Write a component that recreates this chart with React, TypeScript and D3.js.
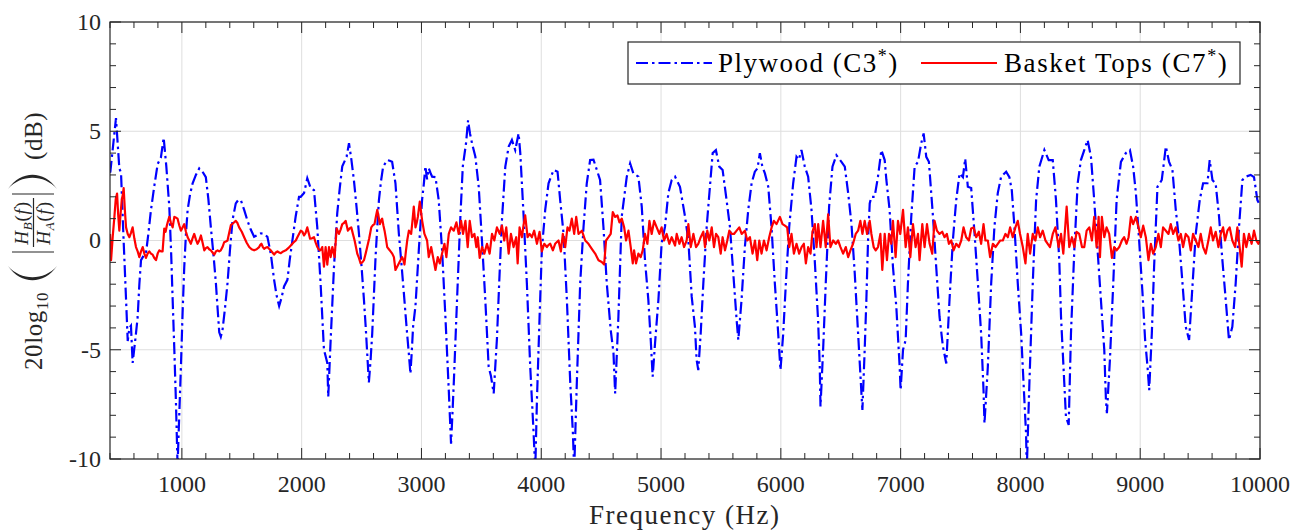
import { useMemo } from "react";
import * as d3 from "d3";

const W = 1306;
const H = 531;
const margin = { top: 22, right: 46, bottom: 72, left: 110 };

const xMajor = [1000, 2000, 3000, 4000, 5000, 6000, 7000, 8000, 9000, 10000];
const yMajor = [-10, -5, 0, 5, 10];
const yLabels = ["-10", "-5", "0", "5", "10"];

// Plywood (C3*), [Hz, dB]
const plywoodA: [number, number][] = [
  [400, 3.1], [403, 3.15], [425, 4.3], [450, 5.6], [464, 4.45], [478, 3.3], [492, 3.1], [510, 0.5],
  [534, -2.7], [548, -4.6], [562, -4.0], [575, -3.9], [589, -5.6], [610, -4.6], [631, -3.5], [645, -2.0],
  [659, -0.9], [680, -0.7], [700, -0.6], [720, 0.3], [742, 1.4], [770, 2.5], [798, 3.5], [825, 3.8],
  [848, 4.7], [870, 3.4], [895, 1.55], [910, -0.5], [923, -2.7], [937, -5.0], [950, -7.3], [964, -10.3],
  [978, -8.0], [992, -5.8], [1006, -3.3], [1020, -1.2], [1034, 0.3], [1048, 1.4], [1068, 2.1], [1089, 2.6],
  [1117, 3.0], [1145, 3.3], [1172, 3.15], [1200, 2.9], [1221, 1.9], [1242, 0.6], [1263, -0.6], [1284, -1.95],
  [1298, -3.1], [1312, -4.2], [1325, -4.4], [1339, -4.1], [1360, -3.1], [1381, -1.95], [1402, -0.4], [1423, 0.94],
  [1450, 1.7], [1470, 1.85], [1492, 1.85], [1520, 1.4], [1548, 0.9], [1575, 0.5], [1603, 0.17], [1631, 0.25],
  [1659, 0.33], [1686, 0.3], [1714, 0.17], [1742, -0.6], [1770, -1.8], [1790, -2.5], [1812, -3.0], [1833, -2.6],
  [1853, -2.1], [1881, -1.8], [1900, -0.9], [1923, 0.02], [1950, 1.1], [1978, 2.0], [1992, 2.0],
];
const plywoodB: [number, number][] = [
  [2020, 2.17], [2047, 2.85], [2075, 2.4], [2103, 2.3], [2130, 0.63], [2158, -1.96], [2186, -5.0], [2200, -5.3],
  [2214, -5.6], [2222, -7.15], [2242, -4.55], [2270, -1.2], [2297, 1.25], [2318, 2.4], [2339, 3.4], [2375, 3.83],
  [2395, 4.45], [2415, 3.7], [2436, 2.77], [2457, 1.6], [2478, 0.33], [2500, -1.2], [2520, -2.72], [2535, -4.0],
  [2547, -5.15], [2561, -6.5], [2575, -5.5], [2589, -4.25], [2603, -2.5], [2617, -0.74], [2631, 0.6], [2645, 1.85],
  [2662, 2.7], [2680, 3.38], [2714, 3.68], [2735, 3.65], [2755, 3.6], [2783, 2.62], [2811, 0.33], [2832, -1.0],
  [2853, -2.4], [2866, -3.3], [2880, -4.25], [2895, -5.2], [2908, -6.1], [2920, -5.0], [2930, -3.95], [2950, -3.0],
  [2978, -0.43], [3005, 1.85], [3020, 2.6], [3033, 3.4], [3047, 2.8], [3061, 3.3], [3075, 3.1], [3089, 2.92],
  [3117, 2.9], [3144, 1.85], [3172, -0.43], [3200, -3.5], [3228, -6.85], [3247, -9.3], [3258, -8.0], [3270, -6.5],
  [3297, -2.72], [3325, 1.1], [3345, 3.38], [3372, 4.45], [3389, 5.5], [3405, 4.9], [3422, 4.45], [3450, 3.83],
  [3478, 2.46], [3505, 0], [3533, -2.72], [3561, -5.78], [3580, -6.2], [3603, -7.0], [3630, -4.5], [3650, -1.8],
  [3672, 0.94], [3700, 3.38], [3728, 4.3], [3755, 4.6], [3783, 4.14], [3800, 4.6], [3811, 4.9], [3825, 4.0],
  [3853, 1.1], [3880, -1.96], [3908, -5.78], [3936, -8.8], [3950, -10.5], [3964, -7.3], [3986, -3.5],
];
const plywoodC: [number, number][] = [
  [4005, -0.43], [4033, 1.4], [4061, 2.62], [4103, 3.23], [4136, 3.15], [4158, 1.85], [4186, 0.33], [4214, -2.72],
  [4242, -6.5], [4264, -8.8], [4275, -10.5], [4297, -6.5], [4325, -1.96], [4353, 0.63], [4380, 2.62], [4408, 3.68],
  [4436, 3.7], [4464, 3.23], [4491, 2.77], [4519, 0.63], [4547, -1.96], [4580, -4.1], [4603, -5.15], [4617, -7.0],
  [4644, -3.5], [4672, 1.1], [4714, 2.92], [4742, 3.53], [4769, 3.07], [4811, 2.92], [4839, 1.55], [4866, -0.9],
  [4894, -2.72], [4914, -4.55], [4930, -6.23], [4950, -4.7], [4978, -2.72], [5005, -0.12], [5033, 0.63], [5061, 2.17],
  [5089, 2.77], [5117, 2.92], [5158, 2.46], [5200, 1.1], [5228, 0], [5256, -2.57], [5283, -3.95], [5297, -5.47],
  [5311, -5.93], [5331, -4.25], [5353, -1.96], [5381, 0.63], [5408, 2.46], [5431, 4.0], [5458, 4.14], [5486, 3.38],
  [5514, 3.23], [5547, 1.85], [5575, 0.63], [5603, -1.5], [5631, -3.64], [5645, -4.55], [5672, -2.72], [5700, -0.28],
  [5728, 1.4], [5756, 2.62], [5783, 3.15], [5805, 3.3], [5825, 4.0], [5845, 3.4], [5867, 3.07], [5895, 2.46],
  [5922, 0.63], [5950, -1.96], [5978, -4.25], [5997, -5.93],
];
const plywoodD: [number, number][] = [
  [6020, -4.25], [6042, -1.96], [6070, 0.63], [6103, 2.62], [6131, 3.83], [6150, 3.7], [6172, 4.14], [6200, 3.38],
  [6228, 2.92], [6256, 1.4], [6283, -0.9], [6311, -3.64], [6325, -5.78], [6331, -7.6], [6353, -5.0], [6375, -1.96],
  [6403, 1.55], [6431, 3.38], [6464, 3.9], [6506, 3.6], [6534, 3.38], [6562, 2.17], [6589, 0.8], [6617, -1.5],
  [6645, -4.25], [6673, -7.0], [6681, -7.75], [6700, -5.0], [6714, -2.72], [6728, 0.0], [6742, 1.7], [6756, 2.0],
  [6783, 2.0], [6811, 2.92], [6839, 4.14], [6867, 3.68], [6881, 2.77], [6908, 1.4], [6936, -1.2], [6964, -3.03],
  [6992, -5.78], [7000, -6.84], [7020, -5.0], [7042, -4.55], [7061, -1.96], [7089, 1.1], [7117, 3.38], [7145, 3.6],
  [7172, 4.45], [7192, 4.9], [7214, 3.83], [7236, 3.6], [7270, 1.1], [7297, -1.2], [7325, -3.5], [7353, -4.85],
  [7381, -5.63], [7408, -2.72], [7436, 0], [7464, 1.85], [7492, 3.07], [7520, 2.9], [7539, 3.75], [7561, 2.46],
  [7589, 2.4], [7617, 0.33], [7645, -1.96], [7672, -4.25], [7692, -6.85], [7700, -8.37], [7728, -5.78], [7756, -1.96],
  [7783, 0.63], [7811, 2.17], [7839, 2.92], [7881, 3.15], [7908, 2.9], [7928, 2.3], [7950, 0.63], [7978, -1.96],
];
const plywoodE: [number, number][] = [
  [8006, -4.25], [8033, -7.3], [8047, -8.83], [8053, -10.5], [8075, -6.5], [8103, -1.96], [8131, 1.85], [8158, 3.38],
  [8200, 4.14], [8236, 3.68], [8270, 3.68], [8297, 1.85], [8325, -1.0], [8339, -3.5], [8366, -6.5], [8380, -8.06],
  [8403, -8.44], [8422, -4.25], [8450, -0.43], [8478, 2.62], [8505, 3.68], [8533, 4.14], [8561, 4.6], [8589, 3.83],
  [8616, 1.85], [8644, -0.43], [8672, -2.72], [8700, -5.0], [8714, -7.3], [8722, -7.9], [8747, -5.47], [8775, -1.96],
  [8803, 1.85], [8839, 3.6], [8880, 4.0], [8914, 4.14], [8941, 3.38], [8964, 2.17], [8991, 0], [9019, -2.4],
  [9041, -4.55], [9061, -5.78], [9075, -6.85], [9097, -4.25], [9116, -1.2], [9144, 2.46], [9180, 2.77], [9214, 4.3],
  [9241, 3.6], [9269, 3.23], [9297, 1.4], [9325, 0], [9353, -1.96], [9380, -3.95], [9408, -4.55], [9436, -2.1],
  [9464, 0.33], [9497, 1.85], [9525, 2.62], [9561, 2.62], [9580, 3.68], [9603, 2.77], [9630, 2.6], [9658, 1.1],
  [9686, -0.9], [9714, -2.72], [9741, -4.55], [9769, -3.95], [9797, -1.96], [9825, 0.63], [9853, 2.77], [9880, 2.92],
  [9922, 3.0], [9950, 2.9], [9978, 1.85], [10000, 1.6],
];

// Basket Tops (C7*)
const basketA: [number, number][] = [
  [400, 0.3], [409, -0.9], [423, 0.2], [437, 1.1], [448, 1.9], [459, 2.15], [468, 1.2], [478, 0.45], [488, 1.2],
  [498, 1.85], [507, 2.1], [514, 2.4], [524, 1.4], [534, 0.6], [548, 0.3], [562, 0.15], [575, 0.35], [589, 0.6],
  [603, 0.1], [617, -0.3], [631, -0.5], [645, -0.76], [659, -0.5], [673, -0.3], [687, -0.6], [700, -0.8],
  [714, -0.6], [728, -0.5], [742, -0.6], [756, -0.65], [770, -0.8], [784, -0.9], [798, -0.6], [812, -0.45],
  [826, -0.5], [839, -0.5], [853, 0.55], [864, 0.4], [875, 0.7], [885, 0.9], [895, 1.08], [909, 0.8], [923, 0.6],
  [937, 1.08], [950, 1.05], [964, 1.0], [978, 0.7], [992, 0.45], [1006, 0.6], [1020, 0.75], [1034, 0.4],
  [1048, 0.15], [1062, 0.0], [1075, -0.15], [1089, 0.1], [1103, 0.3], [1117, 0.05], [1131, -0.15], [1145, 0.0],
  [1159, 0.23], [1173, -0.1], [1187, -0.45], [1200, -0.35], [1214, -0.3], [1228, -0.4], [1242, -0.45], [1256, -0.55],
  [1270, -0.65], [1284, -0.5], [1298, -0.45], [1312, -0.5], [1325, -0.45], [1339, -0.3], [1353, -0.08], [1367, -0.05],
  [1381, 0], [1395, 0.35], [1409, 0.7], [1430, 0.8], [1450, 0.9], [1464, 0.8], [1478, 0.6], [1500, 0.4],
  [1520, 0.15], [1541, -0.1], [1562, -0.3], [1582, -0.4], [1603, -0.45], [1624, -0.4], [1645, -0.3], [1655, -0.2],
  [1664, -0.15], [1676, -0.3], [1687, -0.38], [1700, -0.33], [1714, -0.3], [1728, -0.38], [1742, -0.45], [1756, -0.55],
  [1770, -0.65], [1784, -0.55], [1798, -0.5], [1812, -0.55], [1826, -0.58], [1846, -0.5], [1867, -0.45], [1888, -0.35],
  [1909, -0.23], [1930, -0.1], [1951, 0], [1964, 0.15], [1978, 0.3], [1992, 0.45],
];
const basketB: [number, number][] = [
  [2006, 0.4], [2020, 0.23], [2033, 0.35], [2047, 0.6], [2058, 0.35], [2070, 0.08], [2086, 0.1], [2103, 0.15],
  [2117, -0.1], [2131, -0.3], [2142, -0.4], [2153, -0.45], [2163, -0.4], [2172, -0.3], [2186, -1.2], [2200, -0.3],
  [2214, -1.1], [2228, -0.3], [2242, -0.76], [2256, -0.3], [2275, -0.76], [2292, 0.55], [2311, 0.3], [2325, 0.5],
  [2339, 0.75], [2353, 0.8], [2367, 0.9], [2386, 0.45], [2400, 0.55], [2414, 0.6], [2428, 0.3], [2442, 0],
  [2453, -0.3], [2464, -0.6], [2478, -0.8], [2492, -1.05], [2506, -1.0], [2520, -0.9], [2534, -0.6], [2547, -0.3],
  [2564, 0.1], [2581, 0.6], [2595, 0.7], [2608, 0.75], [2620, 1.1], [2631, 1.4], [2642, 1.1], [2653, 0.75],
  [2662, 0.9], [2672, 1.0], [2682, 0.7], [2692, 0.45], [2703, 0.1], [2714, -0.3], [2728, -0.4], [2742, -0.5],
  [2756, -0.6], [2770, -0.76], [2783, -1.35], [2797, -1.2], [2811, -1.05], [2825, -0.9], [2839, -0.76], [2849, -0.9],
  [2858, -1.1], [2870, -0.5], [2881, 0], [2895, 0.45], [2914, 0.3], [2925, 0.9], [2936, 1.55], [2950, 0.6],
  [2960, 0.8], [2970, 1.08], [2986, 1.78], [3006, 0.9], [3025, 0.3], [3047, 0], [3061, -0.76], [3081, -0.3],
  [3097, -0.76], [3117, -1.35], [3136, -0.76], [3153, -1.05], [3172, -0.6], [3192, -0.15], [3208, -0.76], [3228, 0.3],
  [3247, 0.6], [3270, 0.45], [3292, 0.83], [3311, 0.3], [3331, 0.9], [3347, 0.3], [3367, 0.9], [3386, -0.3],
  [3403, 0.9], [3422, 0.15], [3442, 0.3], [3458, -0.3], [3470, 0.15], [3486, -0.8], [3506, -0.3], [3525, -0.6],
  [3547, -0.15], [3569, -0.6], [3589, 0.3], [3608, 0], [3630, 0.6], [3653, 0.3], [3672, 0.68], [3691, 0],
  [3708, 0.6], [3728, -0.6], [3747, 0.3], [3769, -0.3], [3791, 0.15], [3803, -1.05], [3819, 0.6], [3839, 0.15],
  [3852, 0.7], [3866, 1.15], [3886, 0.15], [3903, 0.3], [3922, 0.15], [3941, 0.45], [3964, -0.15], [3986, 0.4],
];
const basketC: [number, number][] = [
  [4005, -0.5], [4025, -0.15], [4047, -0.3], [4061, -0.2], [4075, -0.15], [4097, -0.45], [4116, -0.15], [4144, 0],
  [4164, -0.5], [4180, 0.3], [4200, -0.3], [4219, 0.6], [4236, 0.45], [4255, 1.0], [4275, 0.3], [4292, 1.08],
  [4311, 0.3], [4339, 0.45], [4367, 0], [4394, -0.15], [4422, -0.38], [4450, -0.6], [4478, -0.9], [4505, -0.98],
  [4525, -1.1], [4541, 0], [4561, 0.15], [4580, 0.3], [4597, 1.3], [4617, 1.08], [4636, 1.15], [4653, 0.83],
  [4672, 1.0], [4692, 0.6], [4708, 0], [4728, 0.45], [4747, -0.3], [4764, -1.05], [4775, -0.45], [4791, -1.05],
  [4811, -0.6], [4830, -0.76], [4847, -0.45], [4866, 0.3], [4886, -0.15], [4903, 0.9], [4922, 0.3], [4942, 0.9],
  [4964, 0.6], [4986, 0.3], [5005, 0.6], [5025, 0], [5047, 0.3], [5069, -0.15], [5089, 0.15], [5117, -0.23],
  [5131, 0.3], [5153, -0.15], [5172, 0.15], [5192, -0.3], [5214, 0], [5228, 0.75], [5248, -0.3], [5270, 0.3],
  [5292, -0.3], [5311, -0.15], [5331, 0.15], [5353, 0.4], [5367, -0.3], [5386, 0.45], [5403, 0], [5423, 0.6],
  [5442, -0.3], [5459, 0.3], [5478, 0.15], [5498, -0.6], [5514, 0.15], [5534, -0.45], [5553, 0], [5570, 0.45],
  [5589, 0.3], [5609, 0.3], [5631, 0.45], [5653, 0.6], [5673, 0.3], [5700, 0.45], [5720, 0], [5742, 0.15],
  [5764, -0.6], [5784, 0], [5803, -0.9], [5820, 0], [5839, -0.6], [5859, 0], [5881, -0.45], [5903, 0.15],
  [5923, 0.6], [5942, 0.9], [5964, 0.75], [5992, 1.08],
];
const basketD: [number, number][] = [
  [6014, 0.75], [6034, 0.68], [6053, 0.6], [6070, -0.3], [6089, 0.3], [6109, -0.6], [6131, -0.15], [6153, -0.6],
  [6173, -0.3], [6192, -0.15], [6209, -1.05], [6228, -0.3], [6248, -0.6], [6264, 0.4], [6284, 0.75], [6298, -0.3],
  [6312, 0.75], [6331, -0.3], [6353, 0.9], [6375, -0.3], [6395, 1.2], [6414, -0.3], [6437, 0], [6459, -0.15],
  [6478, 0], [6498, -0.3], [6520, -0.6], [6542, -0.3], [6562, -0.76], [6581, -0.45], [6603, -0.15], [6625, 0.3],
  [6645, 0.45], [6664, 0.9], [6681, 0.3], [6700, 0.9], [6720, 0.3], [6742, 0.9], [6756, 0.3], [6775, -0.3],
  [6792, -0.45], [6811, -0.3], [6831, 0.3], [6847, -1.35], [6867, 0.3], [6886, -0.9], [6903, 0.3], [6922, -0.15],
  [6936, 0.9], [6958, -0.76], [6978, 0.9], [6997, 0.3], [7020, 1.4], [7042, -0.3], [7061, 0.6], [7081, -0.76],
  [7103, 0.75], [7125, -0.3], [7145, 0.3], [7158, -0.9], [7181, 0.75], [7200, -0.3], [7220, 0.75], [7242, -0.15],
  [7264, -0.6], [7283, 0.9], [7303, 0.45], [7325, 0.3], [7347, 0.4], [7367, 0.15], [7386, 0.3], [7403, -0.15],
  [7423, 0], [7442, -0.45], [7464, -0.15], [7486, -0.3], [7506, 0], [7525, 0.6], [7547, 0.15], [7570, 0],
  [7589, 0.55], [7609, 0.6], [7631, 0.15], [7653, 0.4], [7672, -0.15], [7692, 0.75], [7708, 0], [7728, 0],
  [7747, -0.76], [7770, -0.15], [7792, -0.3], [7811, -0.15], [7831, 0], [7853, 0], [7875, 0.3], [7895, 0.15],
  [7914, 0.6], [7936, 0.15], [7958, 0.6], [7978, 0.9], [7997, 0.3],
];
const basketE: [number, number][] = [
  [8020, -0.3], [8042, -1.05], [8061, 0.3], [8081, -0.6], [8103, 0.3], [8125, 0], [8145, 0.6], [8164, 0.15],
  [8186, 0.45], [8209, 0], [8228, -0.15], [8247, -0.3], [8270, 0.3], [8292, 0.6], [8319, -0.3], [8339, 0.3],
  [8358, -0.6], [8386, 1.55], [8408, -0.3], [8430, 0.15], [8450, -0.3], [8469, 0.4], [8491, 0.3], [8514, -0.3],
  [8533, -0.3], [8553, 0.45], [8575, 0.6], [8597, 0], [8616, 1.08], [8636, -0.3], [8653, 1.08], [8664, -0.76],
  [8680, 1.08], [8700, 0.15], [8719, 0.6], [8741, 0.3], [8764, -0.8], [8783, -0.3], [8803, -0.45], [8825, -0.3],
  [8847, 0], [8866, 0.15], [8886, -0.15], [8903, 0.15], [8922, 1.08], [8941, 0.75], [8964, 1.08], [8986, 0.6],
  [9005, 0.15], [9025, 0.68], [9047, 0.15], [9069, -0.9], [9089, -0.15], [9108, -0.6], [9130, -0.3], [9152, 0.3],
  [9172, -0.3], [9191, 0.6], [9214, 0.45], [9236, 0.3], [9255, 0.75], [9275, 0.3], [9297, 0.6], [9319, 0],
  [9339, 0.3], [9358, -0.3], [9380, 0.3], [9403, 0.15], [9422, -0.45], [9441, 0.3], [9464, 0], [9486, -0.3],
  [9505, 0.3], [9525, -0.3], [9547, -0.6], [9569, 0], [9589, 0.6], [9608, 0], [9630, 0.4], [9653, -0.3],
  [9672, 0.3], [9692, 0.6], [9708, 0], [9728, 0.45], [9747, 0.6], [9769, 0], [9792, -0.3], [9811, 0.6],
  [9830, -0.3], [9847, -1.2], [9866, 0.3], [9886, -0.3], [9908, 0.3], [9930, -0.15], [9950, 0.45], [9969, 0],
  [9986, -0.15], [10000, 0],
];

const plywood = [...plywoodA, ...plywoodB, ...plywoodC, ...plywoodD, ...plywoodE];
const basket = [...basketA, ...basketB, ...basketC, ...basketD, ...basketE];

const FONT = "'Liberation Serif', 'Times New Roman', serif";
const AXIS = "#262626";
const GRID = "#dedede";
const BLUE = "#0000ff";
const RED = "#ff0000";
const DASHDOT = "12,4,2.5,4";

export default function App() {
  const x0 = margin.left;
  const x1 = W - margin.right;
  const y0 = margin.top;
  const y1 = H - margin.bottom;

  const x = useMemo(() => d3.scaleLinear().domain([400, 10000]).range([x0, x1]), []);
  const y = useMemo(() => d3.scaleLinear().domain([-10, 10]).range([y1, y0]), []);

  const line = d3
    .line<[number, number]>()
    .x((d) => x(d[0]))
    .y((d) => y(d[1]));

  // minor ticks every 200 Hz and 1 dB
  const xMinor = d3.range(400, 10001, 200).filter((v) => v % 1000 !== 0);
  const yMinor = d3.range(-10, 11, 1).filter((v) => v % 5 !== 0);

  const major = 11;
  const minor = 6;

  return (
    <svg
      width={W}
      height={H}
      style={{ position: "absolute", left: 0, top: 0, background: "#fff" }}
      fontFamily={FONT}
    >
      <defs>
        <clipPath id="plot">
          <rect x={x0} y={y0} width={x1 - x0} height={y1 - y0} />
        </clipPath>
      </defs>
      <rect x={x0} y={y0} width={x1 - x0} height={y1 - y0} fill="#fff" />

      {/* grid */}
      {xMajor.map((v) => (
        <line key={"gx" + v} x1={x(v)} x2={x(v)} y1={y0} y2={y1} stroke={GRID} strokeWidth={1} />
      ))}
      {yMajor.map((v) => (
        <line key={"gy" + v} x1={x0} x2={x1} y1={y(v)} y2={y(v)} stroke={GRID} strokeWidth={1} />
      ))}

      {/* series */}
      <g clipPath="url(#plot)">
        <path
          d={line(plywood) || ""}
          fill="none"
          stroke={BLUE}
          strokeWidth={2.2}
          strokeDasharray={DASHDOT}
        />
        <path d={line(basket) || ""} fill="none" stroke={RED} strokeWidth={2.2} strokeLinejoin="round" />
      </g>

      {/* ticks, inward on all four sides */}
      <g stroke={AXIS} strokeWidth={1}>
        {xMajor.map((v) => (
          <g key={"tx" + v}>
            <line x1={x(v)} x2={x(v)} y1={y1} y2={y1 - major} />
            <line x1={x(v)} x2={x(v)} y1={y0} y2={y0 + major} />
          </g>
        ))}
        {xMinor.map((v) => (
          <g key={"mx" + v}>
            <line x1={x(v)} x2={x(v)} y1={y1} y2={y1 - minor} />
            <line x1={x(v)} x2={x(v)} y1={y0} y2={y0 + minor} />
          </g>
        ))}
        {yMajor.map((v) => (
          <g key={"ty" + v}>
            <line x1={x0} x2={x0 + major} y1={y(v)} y2={y(v)} />
            <line x1={x1} x2={x1 - major} y1={y(v)} y2={y(v)} />
          </g>
        ))}
        {yMinor.map((v) => (
          <g key={"my" + v}>
            <line x1={x0} x2={x0 + minor} y1={y(v)} y2={y(v)} />
            <line x1={x1} x2={x1 - minor} y1={y(v)} y2={y(v)} />
          </g>
        ))}
      </g>
      <rect x={x0} y={y0} width={x1 - x0} height={y1 - y0} fill="none" stroke={AXIS} strokeWidth={1.2} />

      {/* tick labels */}
      <g fontSize={24} fill={AXIS}>
        {xMajor.map((v) => (
          <text key={"lx" + v} x={x(v)} y={y1 + 33} textAnchor="middle">
            {String(v)}
          </text>
        ))}
        {yMajor.map((v, i) => (
          <text key={"ly" + v} x={x0 - 9} y={y(v)} dy="0.33em" textAnchor="end">
            {yLabels[i]}
          </text>
        ))}
      </g>

      {/* x label */}
      <text
        x={(x0 + x1) / 2 - 1}
        y={524}
        fontSize={27}
        textAnchor="middle"
        fill={AXIS}
        textLength={190}
        lengthAdjust="spacing"
      >
        Frequency (Hz)
      </text>

      {/* y label: 20log10( |H_B(f) / H_A(f)| ) (dB) */}
      <g transform="translate(42,240) rotate(-90)" fill={AXIS}>
        <text x={-130} y={0} fontSize={25} letterSpacing={0.6}>
          20log
          <tspan fontSize={17} dy={6}>
            10
          </tspan>
        </text>
        <path d="M -26,-34 C -45,-21 -45,2 -26,15 C -41,2 -41,-21 -26,-34 Z" stroke="none" />
        <line x1={-12} x2={-12} y1={-30} y2={12} stroke={AXIS} strokeWidth={1.2} />
        <text x={17} y={-14} fontSize={19} textAnchor="middle" letterSpacing={0.8}>
          <tspan fontStyle="italic">H</tspan>
          <tspan fontStyle="italic" fontSize={13} dy={4}>
            B
          </tspan>
          <tspan dy={-4}>(</tspan>
          <tspan fontStyle="italic">f</tspan>
          <tspan>)</tspan>
        </text>
        <line x1={-7} x2={42} y1={-8.5} y2={-8.5} stroke={AXIS} strokeWidth={1.2} />
        <text x={17} y={8} fontSize={19} textAnchor="middle" letterSpacing={0.8}>
          <tspan fontStyle="italic">H</tspan>
          <tspan fontStyle="italic" fontSize={13} dy={4}>
            A
          </tspan>
          <tspan dy={-4}>(</tspan>
          <tspan fontStyle="italic">f</tspan>
          <tspan>)</tspan>
        </text>
        <line x1={46} x2={46} y1={-30} y2={12} stroke={AXIS} strokeWidth={1.2} />
        <path d="M 51,-34 C 70,-21 70,2 51,15 C 66,2 66,-21 51,-34 Z" stroke="none" />
        <text x={80} y={0} fontSize={25} letterSpacing={0.6}>
          (dB)
        </text>
      </g>

      {/* legend */}
      <rect x={628} y={42} width={612} height={42} fill="#fff" stroke={AXIS} strokeWidth={1.2} />
      <line x1={636} x2={712} y1={63} y2={63} stroke={BLUE} strokeWidth={2.2} strokeDasharray={DASHDOT} />
      <text x={718} y={72} fontSize={27} letterSpacing={1.5} fill="#000">
        Plywood (C3
        <tspan fontSize={18} dy={-10}>
          *
        </tspan>
        <tspan dy={10}>)</tspan>
      </text>
      <line x1={921} x2={997} y1={63} y2={63} stroke={RED} strokeWidth={2.2} />
      <text x={1004} y={72} fontSize={27} letterSpacing={1.6} fill="#000">
        Basket Tops (C7
        <tspan fontSize={18} dy={-10}>
          *
        </tspan>
        <tspan dy={10}>)</tspan>
      </text>
    </svg>
  );
}
